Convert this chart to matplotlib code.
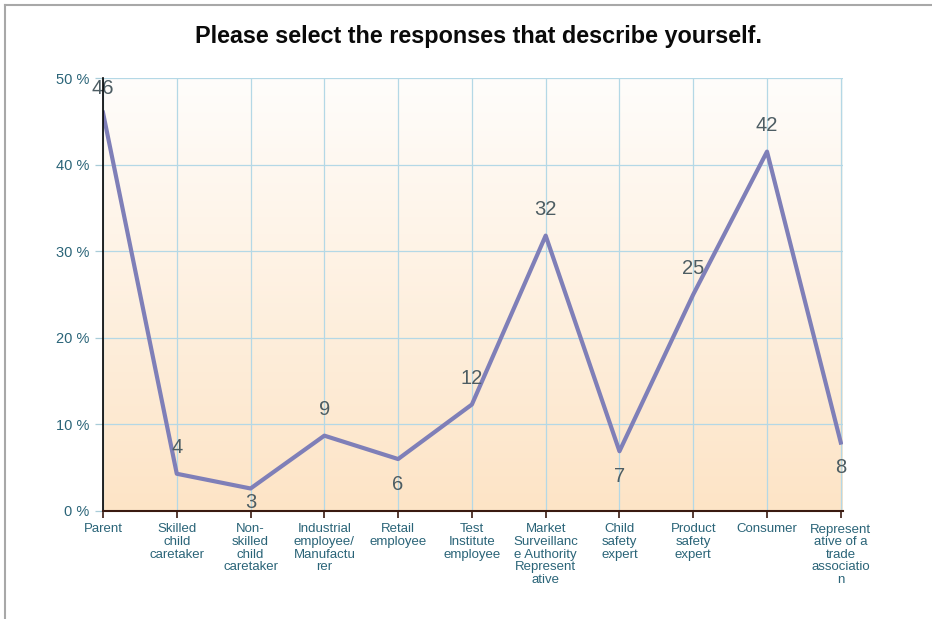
# survey response line chart

import numpy as np
import matplotlib
matplotlib.use("Agg")
import matplotlib.pyplot as plt
from matplotlib.colors import LinearSegmentedColormap
from matplotlib.lines import Line2D

categories = ['Parent', 'Skilled\nchild\ncaretaker', 'Non-\nskilled\nchild\ncaretaker',
              'Industrial\nemployee/\nManufactu\nrer', 'Retail\nemployee',
              'Test\nInstitute\nemployee', 'Market\nSurveillanc\ne Authority\nRepresent\native',
              'Child\nsafety\nexpert', 'Product\nsafety\nexpert', 'Consumer',
              'Represent\native of a\ntrade\nassociatio\nn']
percent = [46.0, 4.3, 2.6, 8.7, 6.0, 12.3, 31.8, 6.9, 25.0, 41.5, 7.9]
labels = ['46', '4', '3', '9', '6', '12', '32', '7', '25', '42', '8']
label_side = ['at', 'above', 'below', 'above', 'below', 'above', 'above', 'below', 'above', 'above', 'below']
yticks = [0, 10, 20, 30, 40, 50]

plt.rcParams['font.family'] = ['Liberation Sans', 'DejaVu Sans']

fig = plt.figure(figsize=(9.32, 6.19), dpi=100)
W, H = 932, 619
ax = fig.add_axes([103 / W, 1 - 511 / H, (843 - 103) / W, (511 - 78) / H])

# gradient background
grad = np.linspace(0, 1, 256).reshape(-1, 1)
cmap = LinearSegmentedColormap.from_list('bg', ['#fde4c6', '#fffdfb'])
ax.imshow(grad, extent=[-0.02, 10.02, 0, 50], origin='lower', aspect='auto', cmap=cmap, zorder=0)

x = np.arange(len(categories))
ax.set_xlim(0, 10.03)
ax.set_ylim(0, 50)

for xi in x:
    ax.axvline(xi, color='#b4d8e6', lw=0.9, zorder=1)
ax.axvline(10.03, color='#b4d8e6', lw=0.9, zorder=1)
for yv in yticks:
    ax.axhline(yv, color='#b4d8e6', lw=0.9, zorder=1)

ax.plot(x, percent, color='#7f7fb8', lw=3, zorder=3, solid_joinstyle='round')

for xi, v, lab, side in zip(x, percent, labels, label_side):
    if side == 'above':
        off = 3.0
    elif side == 'below':
        off = -2.9 if v > 4 else -1.6
    else:
        off = 2.8
    ax.text(xi, v + off, lab, ha='center', va='center', fontsize=14.5, color='#4d5d63', zorder=4)

for s in ['top', 'right']:
    ax.spines[s].set_visible(False)
ax.spines['left'].set_color('#000000')
ax.spines['left'].set_linewidth(1.2)
ax.spines['bottom'].set_color('#3a1a10')
ax.spines['bottom'].set_linewidth(1.5)
ax.spines['left'].set_zorder(5)
ax.spines['bottom'].set_zorder(5)

ax.set_yticks(yticks)
ax.set_yticklabels([f'{t} %' for t in yticks], fontsize=10.5, color='#2a6478')
ax.set_xticks(x)
ax.set_xticklabels(categories, fontsize=9.5, color='#2a6478', linespacing=1.06, va='top')
ax.tick_params(axis='x', length=5, width=1.2, color='#3a1a10', pad=4)
ax.tick_params(axis='y', length=6, width=0.9, color='#a8ccd8', pad=4)

fig.text(478 / W, 1 - 37 / H, 'Please select the responses that describe yourself.',
         ha='center', va='center', fontsize=16.8, fontweight='bold', color='#0a0a0a')

# frame lines, top and left only
fig.add_artist(Line2D([5 / W, 1], [1 - 5 / H, 1 - 5 / H], transform=fig.transFigure, color='#a8a8a8', lw=1.5))
fig.add_artist(Line2D([5 / W, 5 / W], [0, 1 - 5 / H], transform=fig.transFigure, color='#a8a8a8', lw=1.5))

fig.savefig('out.png', dpi=100)
